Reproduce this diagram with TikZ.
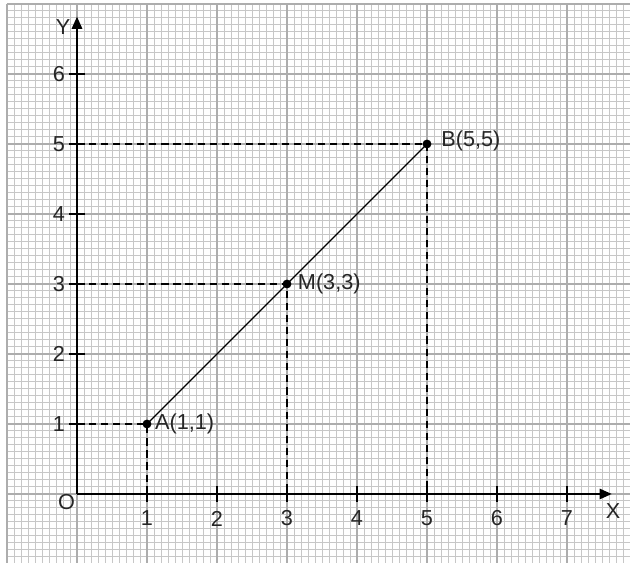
\documentclass[tikz,border=0pt]{standalone}
\usepackage{fontspec}
\setmainfont{Liberation Sans}
\usetikzlibrary{arrows.meta}
\begin{document}
\begin{tikzpicture}[x=1cm,y=1cm,
  minorgrid/.style={draw=black!22,line width=0.4pt},
  majorgrid/.style={draw=black!32,line width=0.55pt},
  axis/.style={line width=0.85pt,-{Triangle[length=5pt,width=4.2pt]}},
  tick/.style={line width=0.65pt},
  guide/.style={line width=0.5pt,dash pattern=on 2.9pt off 2pt},
  seg/.style={line width=0.5pt},
  dot/.style={circle,fill=black,inner sep=0pt,minimum size=3.6pt},
  lbl/.style={font=\fontsize{8.8}{10}\selectfont,inner sep=0pt,text=black!85},
  ptlbl/.style={lbl,anchor=west}]
\useasboundingbox (-1.1,-0.9857) rectangle (7.9,7.057);
\fill[white] (-1.1,-0.9857) rectangle (7.9,7.057);
% grid
\draw[minorgrid] (-1,-0.9857) grid[step=0.1] (7.9,7);
\draw[majorgrid] (-1,-0.9857) grid[step=1] (7.9,7);
% axes
\coordinate (O) at (0,0);
\coordinate (Xend) at (7.64,0);
\coordinate (Yend) at (0,6.82);
\draw[axis] (O) -- (Xend);
\draw[axis] (O) -- (Yend);
% ticks and labels
\foreach \i in {1,...,7}{
  \coordinate (xt\i) at (\i,0);
  \draw[tick] ([yshift=-0.11cm]xt\i) -- ([yshift=0.11cm]xt\i);
  \node[lbl] (xl\i) at (\i,-0.35) {\i};
}
\foreach \i in {1,...,6}{
  \coordinate (yt\i) at (0,\i);
  \draw[tick] ([xshift=-0.11cm]yt\i) -- ([xshift=0.11cm]yt\i);
  \node[lbl] (yl\i) at (-0.26,\i) {\i};
}
\node[lbl] (Olbl) at (-0.15,-0.12) {O};
\node[lbl] (Xlbl) at (7.66,-0.24) {X};
\node[lbl] (Ylbl) at (-0.2,6.67) {Y};
% points
\node[dot] (A) at (1,1) {};
\node[dot] (M) at (3,3) {};
\node[dot] (B) at (5,5) {};
\coordinate (Ax) at (1,0); \coordinate (Ay) at (0,1);
\coordinate (Mx) at (3,0); \coordinate (My) at (0,3);
\coordinate (Bx) at (5,0); \coordinate (By) at (0,5);
\draw[guide] (Ay) -- (A.center) -- (Ax);
\draw[guide] (My) -- (M.center) -- (Mx);
\draw[guide] (By) -- (B.center) -- (Bx);
\draw[seg] (A.center) -- (M.center) -- (B.center);
\node[ptlbl] (Albl) at (1.11,1.0) {A(1,1)};
\node[ptlbl] (Mlbl) at (3.15,3.0) {M(3,3)};
\node[ptlbl] (Blbl) at (5.2,5.05) {B(5,5)};
\end{tikzpicture}
\end{document}
